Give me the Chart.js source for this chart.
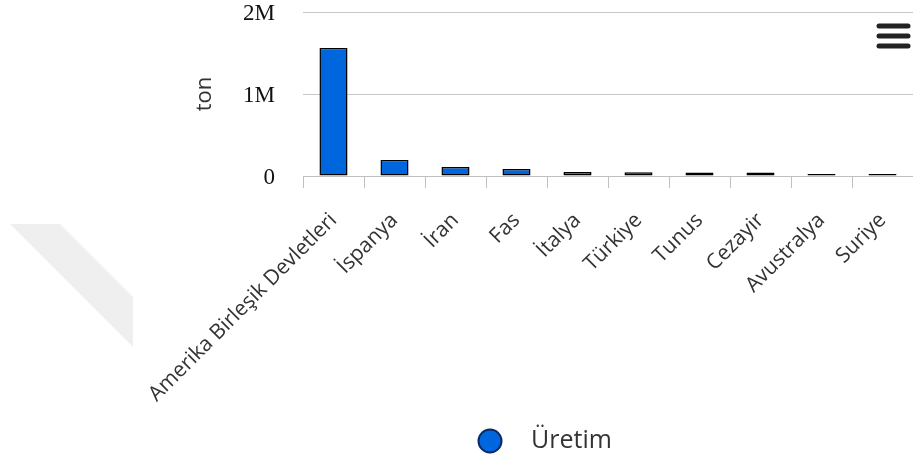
<!DOCTYPE html>
<html>
<head>
<meta charset="utf-8">
<script src="https://cdn.jsdelivr.net/npm/chart.js@4/dist/chart.umd.min.js"></script>
<style>
  html, body { margin: 0; padding: 0; background: #ffffff; overflow: hidden; }
  #wrap { width: 913px; height: 459px; }
</style>
</head>
<body>
<div id="wrap"><canvas id="chart" width="913" height="459"></canvas></div>
<script>
// Production by country (tonnes)
const countries = ['Amerika Birleşik Devletleri', 'İspanya', 'İran', 'Fas', 'İtalya', 'Türkiye', 'Tunus', 'Cezayir', 'Avustralya', 'Suriye'];
const production = [1560000, 195000, 110000, 85000, 48000, 46000, 44000, 42000, 25000, 24000];
const yTickValues = [0, 1000000, 2000000];
const yTickLabels = ['0', '1M', '2M'];
const seriesName = 'Üretim';
const unitTitle = 'ton';

const BAR_BLUE = '#0066dd';

// Background shape, menu icon and legend entry
const decorations = {
  id: 'decorations',
  beforeDraw(chart) {
    const ctx = chart.ctx;
    ctx.save();
    ctx.fillStyle = '#efefef';
    ctx.beginPath();
    ctx.moveTo(10, 224);
    ctx.lineTo(60, 224);
    ctx.lineTo(133, 297);
    ctx.lineTo(133, 347);
    ctx.closePath();
    ctx.fill();
    ctx.restore();
  },
  afterDraw(chart) {
    const ctx = chart.ctx;
    ctx.save();
    // menu icon
    ctx.strokeStyle = '#222';
    ctx.lineWidth = 5;
    ctx.lineCap = 'round';
    [26, 36, 46].forEach(y => {
      ctx.beginPath();
      ctx.moveTo(879, y);
      ctx.lineTo(908, y);
      ctx.stroke();
    });
    // legend
    const ds = chart.data.datasets[0];
    ctx.beginPath();
    ctx.arc(490, 441, 11.5, 0, Math.PI * 2);
    ctx.fillStyle = ds.backgroundColor;
    ctx.fill();
    ctx.lineWidth = 2;
    ctx.strokeStyle = '#0a2a66';
    ctx.stroke();
    ctx.fillStyle = '#333';
    ctx.font = '25px "Open Sans"';
    ctx.textBaseline = 'middle';
    ctx.textAlign = 'left';
    ctx.fillText(ds.label, 531, 441);
    ctx.restore();
  }
};

new Chart(document.getElementById('chart'), {
  type: 'bar',
  data: {
    labels: countries,
    datasets: [{
      label: seriesName,
      data: production,
      backgroundColor: BAR_BLUE,
      borderColor: '#000000',
      borderWidth: 1.5,
      borderSkipped: false,
      barPercentage: 0.46,
      categoryPercentage: 1
    }]
  },
  options: {
    responsive: false,
    animation: false,
    devicePixelRatio: 1,
    layout: { padding: { top: 12, right: 0, bottom: 0, left: 0 } },
    plugins: {
      legend: { display: false },
      tooltip: { enabled: false }
    },
    scales: {
      x: {
        afterFit(scale) {
          scale.height = 283;
          scale.paddingRight = 0;
        },
        grid: {
          offset: true,
          drawOnChartArea: false,
          drawTicks: true,
          tickLength: 12,
          color: '#c0c0c0'
        },
        border: { color: '#c0c0c0' },
        ticks: {
          autoSkip: false,
          minRotation: 45,
          maxRotation: 45,
          padding: 20,
          color: '#333',
          font: { family: 'Open Sans', size: 21 }
        }
      },
      y: {
        min: 0,
        max: 2000000,
        afterFit(scale) { scale.width = 303; },
        afterBuildTicks(scale) {
          scale.ticks = yTickValues.map(v => ({ value: v }));
        },
        grid: {
          color: '#c8c8c8',
          drawTicks: true,
          tickLength: 28,
          tickColor: 'rgba(0,0,0,0)'
        },
        border: { display: false },
        ticks: {
          padding: 0,
          labelOffset: 2,
          color: '#111',
          font: { family: 'Liberation Serif', size: 23, lineHeight: 1 },
          callback(value) {
            const i = yTickValues.indexOf(value);
            return i >= 0 ? yTickLabels[i] : '';
          }
        },
        title: {
          display: true,
          text: unitTitle,
          color: '#333',
          font: { family: 'Open Sans', size: 22 },
          padding: { top: 192, bottom: 0 }
        }
      }
    }
  },
  plugins: [decorations]
});
</script>
</body>
</html>
